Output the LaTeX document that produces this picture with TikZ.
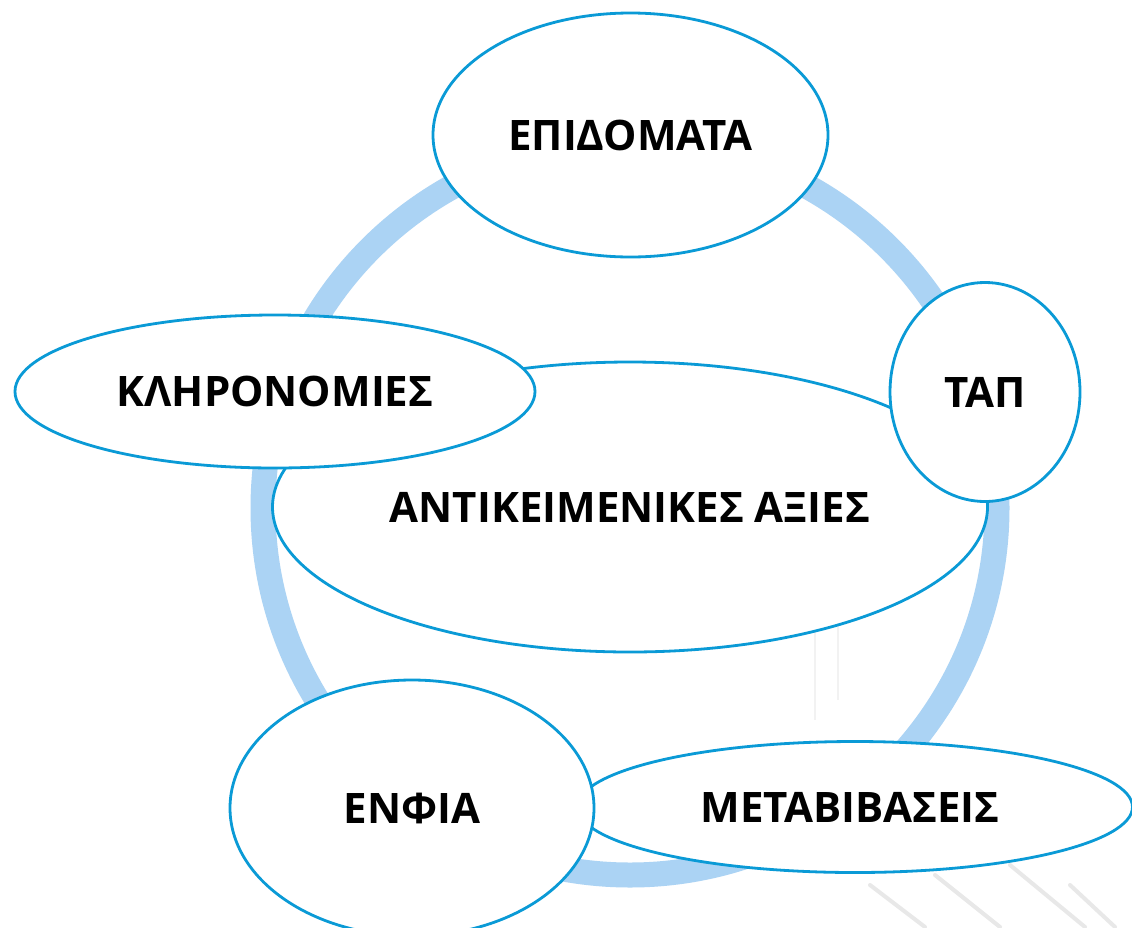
\documentclass[tikz,border=0pt]{standalone}
\usepackage{fontspec}
\setmainfont{Open Sans}
\usetikzlibrary{shapes.geometric}
\definecolor{ringblue}{HTML}{ABD3F4}
\definecolor{edgeblue}{HTML}{0A9AD6}
\tikzset{
  oval/.style={ellipse, draw=edgeblue, line width=2.8pt, fill=white, inner sep=0pt,
    font=\fontsize{42}{44}\selectfont\bfseries, text=black},
  bgline/.style={draw=black!9, line width=4pt, line cap=round}
}
\begin{document}
\begin{tikzpicture}[x=1pt,y=-1pt]
\useasboundingbox (0,0) rectangle (1132,927);
\clip (0,0) rectangle (1132,927);
\fill[white] (0,0) rectangle (1132,927);
% faint background texture
\draw[bgline] (870,885) -- (925,927);
\draw[bgline] (935,875) -- (1000,927);
\draw[bgline] (1010,865) -- (1085,927);
\draw[bgline] (1070,885) -- (1115,927);
\draw[draw=black!5, line width=2pt] (815,610) -- (815,720);
\draw[draw=black!5, line width=2pt] (838,610) -- (838,700);
% ring
\coordinate (c) at (630,508);
\draw[ringblue, line width=25pt] (c) circle[radius=367];
% ellipses
\node[oval, minimum width=715, minimum height=290] (ax) at (630,507) {ΑΝΤΙΚΕΙΜΕΝΙΚΕΣ ΑΞΙΕΣ};
\node[oval, minimum width=395, minimum height=244] (ep) at (630.5,135) {ΕΠΙΔΟΜΑΤΑ};
\node[oval, minimum width=190, minimum height=219] (tap) at (985,392) {ΤΑΠ};
\node[oval, minimum width=520, minimum height=153] (kl) at (275,391.5) {ΚΛΗΡΟΝΟΜΙΕΣ};
\node[oval, minimum width=555, minimum height=131] (me) at (855,807) {\hspace*{-10pt}ΜΕΤΑΒΙΒΑΣΕΙΣ};
\node[oval, minimum width=364, minimum height=256] (en) at (412,808) {ΕΝΦΙΑ};
\end{tikzpicture}
\end{document}
